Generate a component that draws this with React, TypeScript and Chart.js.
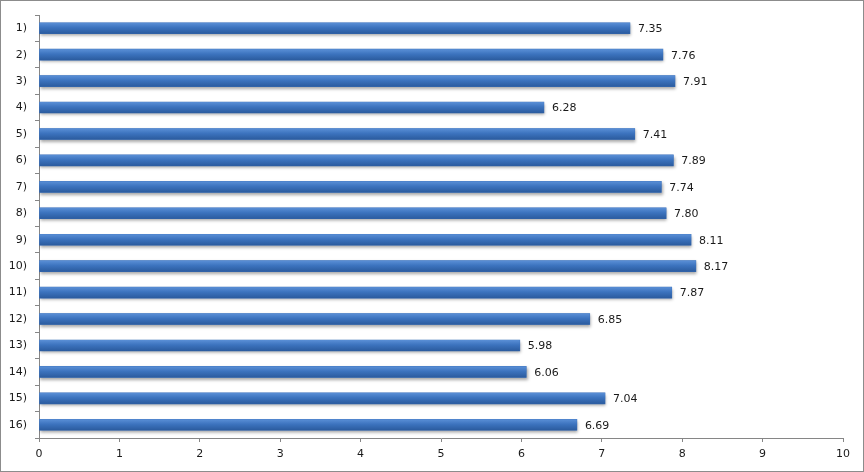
import React, { useEffect, useRef } from "react";
import { Chart, registerables } from "chart.js";

Chart.register(...registerables);

const categories = ["1)", "2)", "3)", "4)", "5)", "6)", "7)", "8)", "9)", "10)", "11)", "12)", "13)", "14)", "15)", "16)"];
const values = [7.35, 7.76, 7.91, 6.28, 7.41, 7.89, 7.74, 7.8, 8.11, 8.17, 7.87, 6.85, 5.98, 6.06, 7.04, 6.69];
const xMin = 0;
const xMax = 10;

const FONT = "'DejaVu Sans', Verdana, sans-serif";

const frame = {
  id: "frame",
  beforeDraw(chart: any) {
    const ctx = chart.ctx;
    ctx.save();
    ctx.fillStyle = "#ffffff";
    ctx.fillRect(0, 0, chart.width, chart.height);
    ctx.strokeStyle = "#8c8c8c";
    ctx.lineWidth = 1;
    ctx.strokeRect(0.5, 0.5, chart.width - 1, chart.height - 1);
    ctx.restore();
  },
};

const shadow = {
  id: "shadow",
  beforeDatasetDraw(chart: any) {
    const ctx = chart.ctx;
    ctx.save();
    ctx.shadowColor = "rgba(0,0,0,0.35)";
    ctx.shadowOffsetX = 1;
    ctx.shadowOffsetY = 2;
    ctx.shadowBlur = 3;
  },
  afterDatasetDraw(chart: any) {
    chart.ctx.restore();
  },
};

const gloss = {
  id: "gloss",
  afterDatasetsDraw(chart: any) {
    const ctx = chart.ctx;
    const meta = chart.getDatasetMeta(0);
    ctx.save();
    meta.data.forEach((bar: any, i: number) => {
      const top = bar.y - bar.height / 2;
      const bottom = bar.y + bar.height / 2;
      const g = ctx.createLinearGradient(0, top, 0, bottom);
      g.addColorStop(0, "#5a8fd6");
      g.addColorStop(0.45, "#3c73be");
      g.addColorStop(1, "#2b5b9e");
      ctx.fillStyle = g;
      ctx.fillRect(bar.base, top, bar.x - bar.base, bottom - top);
      ctx.fillStyle = "#1a1a1a";
      ctx.font = `11px ${FONT}`;
      ctx.textAlign = "left";
      ctx.textBaseline = "middle";
      ctx.fillText(values[i].toFixed(2), bar.x + 8, bar.y + 1);
    });
    ctx.restore();
  },
};

export default function App() {
  const ref = useRef<HTMLCanvasElement>(null);
  useEffect(() => {
    const chart = new Chart(ref.current!, {
      type: "bar",
      data: {
        labels: categories,
        datasets: [
          {
            data: values,
            backgroundColor: "#3a6fb9",
            borderWidth: 0,
            barThickness: 11,
          },
        ],
      },
      options: {
        indexAxis: "y",
        responsive: false,
        animation: false,
        layout: { padding: { top: 15, right: 21, left: 0, bottom: 0 } },
        plugins: { legend: { display: false }, tooltip: { enabled: false } },
        scales: {
          x: {
            min: xMin,
            max: xMax,
            ticks: { stepSize: 1, color: "#1a1a1a", font: { family: FONT, size: 11 }, padding: 6 },
            grid: { display: true, drawOnChartArea: false, tickLength: 4, color: "#868686" },
            border: { color: "#868686" },
            afterFit(scale: any) {
              scale.height = 34;
            },
          },
          y: {
            ticks: { color: "#1a1a1a", font: { family: FONT, size: 11 }, padding: 8 },
            grid: { display: true, drawOnChartArea: false, tickLength: 4, offset: true, color: "#868686" },
            border: { color: "#868686" },
            afterFit(scale: any) {
              scale.width = 39;
            },
          },
        },
      },
      plugins: [frame, shadow, gloss],
    });
    return () => chart.destroy();
  }, []);
  return (
    <div style={{ position: "absolute", left: 0, top: 0, width: 864, height: 472 }}>
      <canvas ref={ref} width={864} height={472} style={{ display: "block" }} />
    </div>
  );
}
